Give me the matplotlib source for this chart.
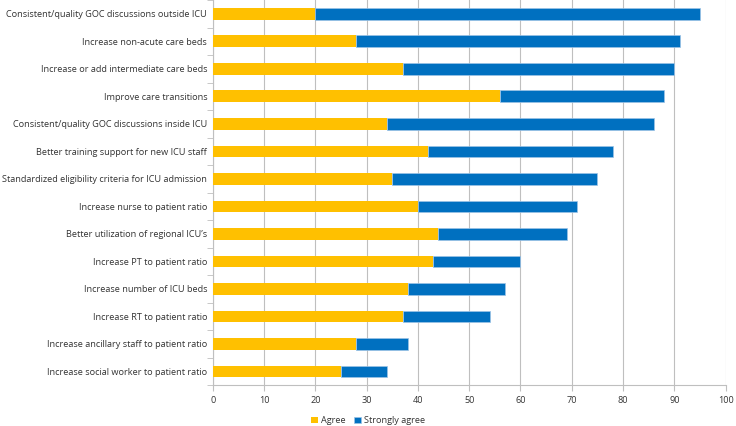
import numpy as np
import matplotlib.pyplot as plt

CATEGORIES = [
    "Consistent/quality GOC discussions outside ICU",
    "Increase non-acute care beds",
    "Increase or add intermediate care beds",
    "Improve care transitions",
    "Consistent/quality GOC discussions inside ICU",
    "Better training support for new ICU staff",
    "Standardized eligibility criteria for ICU admission",
    "Increase nurse to patient ratio",
    "Better utilization of regional ICU\u2019s",
    "Increase PT to patient ratio",
    "Increase number of ICU beds",
    "Increase RT to patient ratio",
    "Increase ancillary staff to patient ratio",
    "Increase social worker to patient ratio",
]
AGREE = [20, 28, 37, 56, 34, 42, 35, 40, 44, 43, 38, 37, 28, 25]
STRONGLY_AGREE = [75, 63, 53, 32, 52, 36, 40, 31, 25, 17, 19, 17, 10, 9]

AGREE_COLOR = "#FFC000"
STRONG_COLOR = "#0070C0"
GRID_COLOR = "#BFBFBF"
TEXT_COLOR = "#333333"

plt.rcParams['font.family'] = ['Open Sans', 'DejaVu Sans']

fig = plt.figure(figsize=(7.36, 4.26), dpi=100)
ax = fig.add_axes([0.289, 0.096, 0.697, 0.904])

y = np.arange(len(CATEGORIES))
ax.barh(y, AGREE, height=0.42, color=AGREE_COLOR, label="Agree", zorder=3)
ax.barh(y, STRONGLY_AGREE, left=AGREE, height=0.42, color=STRONG_COLOR,
        edgecolor="#9DC3E6", linewidth=0.5, label="Strongly agree", zorder=3)

ax.set_ylim(len(CATEGORIES) - 0.5, -0.5)
ax.set_yticks(y)
ax.set_yticklabels(CATEGORIES, fontsize=6.6, color=TEXT_COLOR)
ax.set_yticks(np.arange(-0.5, len(CATEGORIES), 1), minor=True)
ax.tick_params(axis='y', which='major', length=0, pad=4)
ax.tick_params(axis='y', which='minor', length=4, color=GRID_COLOR)

ax.set_xlim(0, 100)
ax.set_xticks(np.arange(0, 101, 10))
ax.tick_params(axis='x', labelsize=6.6, labelcolor=TEXT_COLOR, length=4, color=GRID_COLOR)
ax.grid(axis='x', color=GRID_COLOR, linewidth=0.8, zorder=0)

for side in ["top", "right"]:
    ax.spines[side].set_visible(False)
for side in ["left", "bottom"]:
    ax.spines[side].set_color(GRID_COLOR)

fig.legend(loc="center", bbox_to_anchor=(0.5, 0.013), ncol=2, frameon=False,
           fontsize=6.6, handlelength=0.7, handleheight=0.7, columnspacing=1.0,
           handletextpad=0.3, labelcolor=TEXT_COLOR)

fig.savefig("out.png", dpi=100)
